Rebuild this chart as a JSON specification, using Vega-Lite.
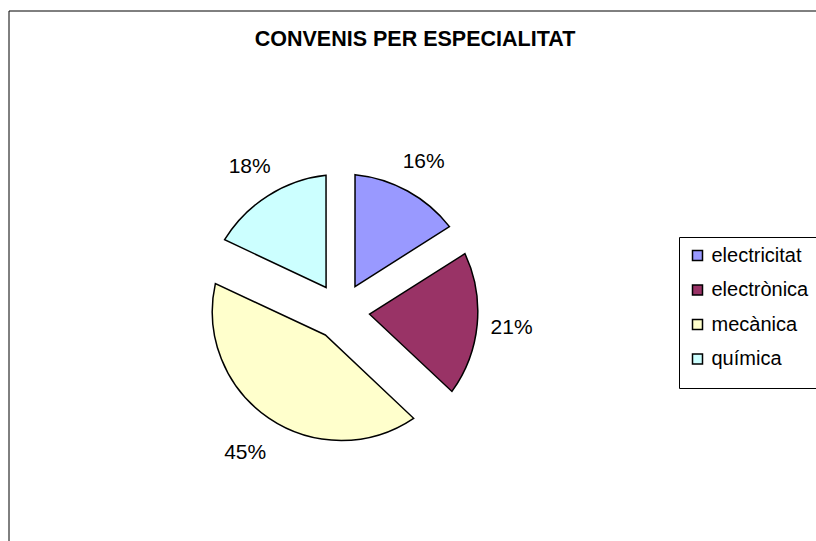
{
  "$schema": "https://vega.github.io/schema/vega-lite/v6.json",
  "width": 807,
  "height": 530,
  "autosize": {"type": "none"},
  "padding": {"left": 9, "top": 11, "right": 0, "bottom": 0},
  "background": "white",
  "title": {
    "text": "CONVENIS PER ESPECIALITAT",
    "fontSize": 21.5,
    "fontWeight": "bold",
    "font": "Liberation Sans",
    "color": "black",
    "anchor": "middle",
    "frame": "group",
    "offset": 0,
    "baseline": "alphabetic",
    "dx": 2.5,
    "dy": 57
  },
  "data": {
    "values": [
      {"especialitat": "electricitat", "share": 0.16},
      {"especialitat": "electrònica", "share": 0.21},
      {"especialitat": "mecànica", "share": 0.45},
      {"especialitat": "química", "share": 0.18}
    ]
  },
  "transform": [
    {
      "stack": "share",
      "groupby": [],
      "sort": [{"field": "especialitat", "order": "ascending"}],
      "as": ["t0", "t1"]
    }
  ],
  "encoding": {
    "color": {
      "field": "especialitat",
      "type": "nominal",
      "scale": {
        "domain": ["electricitat", "electrònica", "mecànica", "química"],
        "range": ["#9999FF", "#993366", "#FFFFCC", "#CCFFFF"]
      },
      "legend": {
        "title": " ",
        "titleOrient": "bottom",
        "titleFontSize": 5,
        "titlePadding": 5,
        "orient": "none",
        "legendX": 670,
        "legendY": 226,
        "symbolType": "square",
        "symbolSize": 100,
        "symbolStrokeColor": "black",
        "symbolStrokeWidth": 1.5,
        "labelFontSize": 20,
        "labelFont": "Liberation Sans",
        "labelColor": "black",
        "labelOffset": 4,
        "labelLimit": 0,
        "rowPadding": 14.5,
        "padding": 8.5,
        "strokeColor": "black",
        "fillColor": "white"
      }
    }
  },
  "layer": [
    {
      "data": {"values": [{"frame": "chart"}]},
      "transform": [],
      "mark": {
        "type": "rect",
        "x": 0,
        "y": 0,
        "x2": {"expr": "width + 10"},
        "y2": {"expr": "height + 10"},
        "fillOpacity": 0,
        "stroke": "black",
        "strokeWidth": 1
      },
      "encoding": {"color": null}
    },
    {
      "transform": [{"filter": {"field": "especialitat", "equal": "electricitat"}}],
      "mark": {
        "type": "arc", "x": 332.3, "y": 300.5,
        "innerRadius": 28.4, "outerRadius": 137.5, "padAngle": 0.1959,
        "stroke": "black", "strokeWidth": 1.5
      },
      "encoding": {
        "theta": {"field": "t0", "type": "quantitative", "scale": {"domain": [0, 1]}},
        "theta2": {"field": "t1"}
      }
    },
    {
      "transform": [{"filter": {"field": "especialitat", "equal": "electrònica"}}],
      "mark": {
        "type": "arc", "x": 332.3, "y": 300.5,
        "innerRadius": 28.4, "outerRadius": 136.5, "padAngle": 0.2513,
        "stroke": "black", "strokeWidth": 1.5
      },
      "encoding": {
        "theta": {"field": "t0", "type": "quantitative", "scale": {"domain": [0, 1]}},
        "theta2": {"field": "t1"}
      }
    },
    {
      "transform": [{"filter": {"field": "especialitat", "equal": "mecànica"}}],
      "mark": {
        "type": "arc", "x": 332.3, "y": 300.5,
        "innerRadius": 28.4, "outerRadius": 129, "padAngle": 0.4325,
        "stroke": "black", "strokeWidth": 1.5
      },
      "encoding": {
        "theta": {"field": "t0", "type": "quantitative", "scale": {"domain": [0, 1]}},
        "theta2": {"field": "t1"}
      }
    },
    {
      "transform": [{"filter": {"field": "especialitat", "equal": "química"}}],
      "mark": {
        "type": "arc", "x": 332.3, "y": 300.5,
        "innerRadius": 28.4, "outerRadius": 137, "padAngle": 0.2187,
        "stroke": "black", "strokeWidth": 1.5
      },
      "encoding": {
        "theta": {"field": "t0", "type": "quantitative", "scale": {"domain": [0, 1]}},
        "theta2": {"field": "t1"}
      }
    },
    {
      "mark": {
        "type": "text", "x": 332.3, "y": 300.5,
        "radius": 171,
        "fontSize": 21,
        "font": "Liberation Sans",
        "color": "black",
        "align": "center",
        "baseline": "middle"
      },
      "encoding": {
        "color": null,
        "theta": {"field": "share", "type": "quantitative", "stack": true, "scale": {"domain": [0, 1]}},
        "order": {"field": "especialitat", "type": "nominal"},
        "detail": {"field": "especialitat", "type": "nominal"},
        "text": {"field": "share", "type": "quantitative", "format": ".0%"}
      }
    }
  ],
  "config": {
    "view": {"stroke": null},
    "text": {"font": "Liberation Sans"}
  }
}
